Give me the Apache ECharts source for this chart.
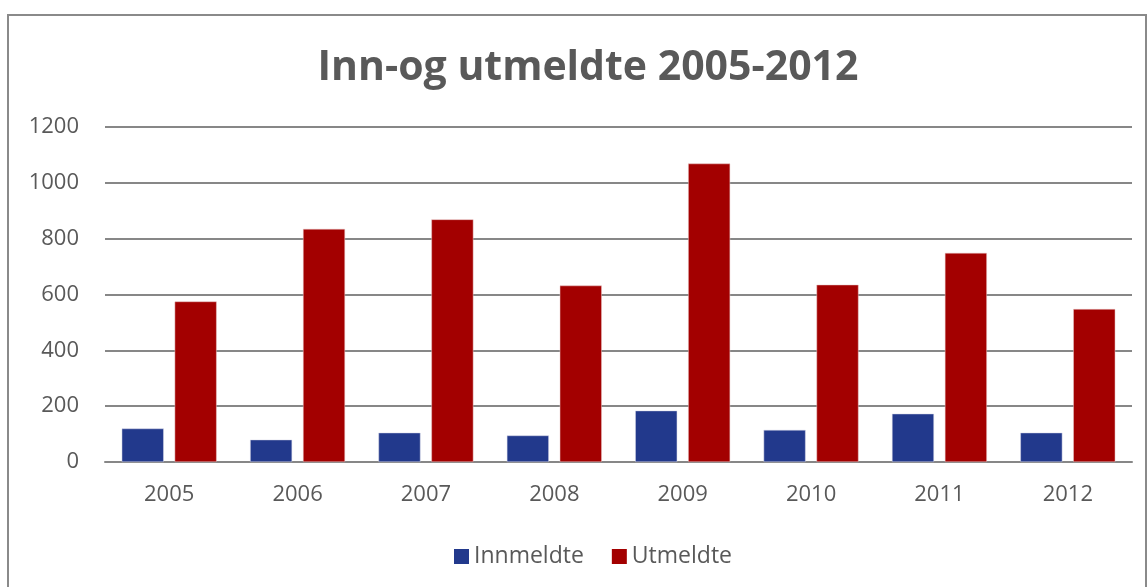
<!DOCTYPE html>
<html>
<head>
<meta charset="utf-8">
<script src="https://cdn.jsdelivr.net/npm/echarts@6/dist/echarts.min.js"></script>
<style>
  html, body { margin: 0; padding: 0; background: #fff; }
  #chart { width: 1148px; height: 587px; }
</style>
</head>
<body>
<div id="chart"></div>
<script>
// data
const years = ["2005", "2006", "2007", "2008", "2009", "2010", "2011", "2012"];
const innmeldte = [120, 80, 105, 95, 184, 115, 173, 105];
const utmeldte = [575, 835, 869, 632, 1069, 635, 749, 548];
const yTicks = { min: 0, max: 1200, interval: 200 };

const textGrey = "#595959";
const lineGrey = "#878787";
const font = "'Open Sans', sans-serif";

var chart = echarts.init(document.getElementById("chart"));

chart.setOption({
  backgroundColor: "#fff",
  animation: false,
  title: {
    text: "Inn-og utmeldte 2005-2012",
    left: 583,
    textAlign: "center",
    top: 43,
    textStyle: {
      fontFamily: font,
      fontWeight: "bold",
      fontSize: 41,
      color: textGrey,
    },
  },
  // outer chart frame
  graphic: [
    {
      type: "rect",
      shape: { x: 8, y: 15, width: 1138, height: 600 },
      style: { fill: "none", stroke: "#8a8a8a", lineWidth: 2 },
      silent: true,
    },
  ],
  legend: {
    left: 449,
    top: 540,
    icon: "rect",
    itemWidth: 15,
    itemHeight: 15,
    itemGap: 28,
    itemStyle: { borderWidth: 0 },
    textStyle: { fontFamily: font, fontSize: 23, color: textGrey },
    data: ["Innmeldte", "Utmeldte"],
  },
  grid: { left: 105, right: 16, top: 127, bottom: 125 },
  xAxis: {
    type: "category",
    data: years,
    axisTick: { show: false },
    axisLine: { lineStyle: { color: lineGrey, width: 2 } },
    axisLabel: { margin: 22, fontFamily: font, fontSize: 22, color: textGrey },
  },
  yAxis: {
    type: "value",
    min: yTicks.min,
    max: yTicks.max,
    interval: yTicks.interval,
    axisLine: { show: false },
    axisTick: { show: false },
    splitLine: { lineStyle: { color: lineGrey, width: 2 } },
    axisLabel: {
      margin: 26,
      fontFamily: font,
      fontSize: 22,
      color: textGrey,
      formatter: (v) => String(v),
    },
  },
  series: [
    {
      name: "Innmeldte",
      type: "bar",
      data: innmeldte,
      barWidth: 42,
      barGap: "26%",
      itemStyle: { color: "#22398c", borderColor: "#d8d8e8", borderWidth: 0.5 },
    },
    {
      name: "Utmeldte",
      type: "bar",
      data: utmeldte,
      barWidth: 42,
      itemStyle: { color: "#a30000", borderColor: "#e8c8c8", borderWidth: 0.5 },
    },
  ],
});
</script>
</body>
</html>
